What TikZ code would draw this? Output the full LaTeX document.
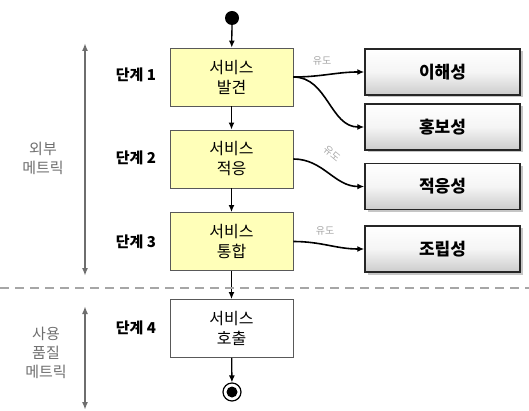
\documentclass[tikz,border=0pt]{standalone}
\usepackage{fontspec}
\setmainfont{Noto Sans CJK KR}
\usetikzlibrary{shadows,arrows.meta}
\definecolor{boxyellow}{RGB}{255,255,185}
\definecolor{metricgray}{RGB}{110,110,110}
\begin{document}
\begin{tikzpicture}[x=1pt,y=-1pt,
  stagebox/.style={draw=gray!70!black,line width=0.9pt,fill=boxyellow,minimum width=123pt,minimum height=58pt,align=center,font=\fontsize{16}{20}\selectfont,inner sep=0pt},
  callbox/.style={stagebox,fill=white},
  qualbox/.style={draw=black!85,line width=1.5pt,minimum width=155pt,minimum height=46pt,top color=white,bottom color=gray!40,middle color=gray!8,drop shadow={shadow xshift=2.5pt,shadow yshift=-2.5pt,opacity=0.45},font=\fontsize{17}{18}\selectfont\bfseries,inner sep=0pt},
  steplabel/.style={font=\fontsize{15}{16}\selectfont\bfseries},
  metric/.style={font=\fontsize{15}{19}\selectfont,text=metricgray,align=center},
  flow/.style={line width=1.3pt,-{Latex[length=7pt,width=6pt]}},
  conn/.style={line width=1.6pt,-{Latex[length=7pt,width=6pt]}},
  derive/.style={font=\fontsize{10}{11}\selectfont,text=gray!70},
  rangearrow/.style={line width=2pt,draw=metricgray,{Latex[length=8pt,width=6pt]}-{Latex[length=8pt,width=6pt]}}
]
\useasboundingbox (0,0) rectangle (529,411);
% start / end
\node[circle,fill=black,minimum size=14pt,inner sep=0pt] (start) at (232,18) {};
\node[circle,draw=black,line width=1.2pt,fill=white,minimum size=18pt,inner sep=0pt] (finish) at (232,392) {};
\node[circle,fill=black,minimum size=11pt,inner sep=0pt] (finishin) at (232,392) {};
% stage boxes
\node[stagebox] (b1) at (231.5,77) {서비스\\발견};
\node[stagebox] (b2) at (231.5,159) {서비스\\적응};
\node[stagebox] (b3) at (231.5,241.5) {서비스\\통합};
\node[callbox] (b4) at (231.5,328.5) {서비스\\호출};
% stage labels
\node[steplabel] (l1) at (136,75) {단계 1};
\node[steplabel] (l2) at (136,158) {단계 2};
\node[steplabel] (l3) at (136,242) {단계 3};
\node[steplabel] (l4) at (136,328) {단계 4};
% quality boxes
\node[qualbox] (q1) at (442.5,72) {이해성};
\node[qualbox] (q2) at (442.5,127) {홍보성};
\node[qualbox] (q3) at (442.5,186.5) {적응성};
\node[qualbox] (q4) at (442.5,249) {조립성};
% flow
\draw[flow] (start) -- (b1);
\draw[flow] (b1) -- (b2);
\draw[flow] (b2) -- (b3);
\draw[flow] (b3) -- (b4);
\draw[flow] (b4) -- (finish);
% derivations
\draw[conn] (b1.east) to[out=0,in=180] (q1.west);
\draw[conn] (b1.east) to[out=0,in=180] (q2.west);
\draw[conn] (b2.east) to[out=0,in=180] (q3.west);
\draw[conn] (b3.east) to[out=0,in=180] (q4.west);
\node[derive] (d1) at (322,61) {유도};
\node[derive,rotate=-40] (d2) at (332,154) {유도};
\node[derive] (d3) at (325,231) {유도};
% separator
\coordinate (sepl) at (0,288);
\coordinate (sepr) at (529,288);
\draw[draw=gray!70,line width=1.6pt,dash pattern=on 9pt off 6pt] (sepl) -- (sepr);
% ranges
\coordinate (r1t) at (85,43);
\coordinate (r1b) at (85,276);
\coordinate (r2t) at (85,306);
\coordinate (r2b) at (85,410);
\draw[rangearrow] (r1t) -- (r1b);
\draw[rangearrow] (r2t) -- (r2b);
\node[metric] (m1) at (43,158) {외부\\메트릭};
\node[metric] (m2) at (46,353) {사용\\품질\\메트릭};
\end{tikzpicture}
\end{document}
